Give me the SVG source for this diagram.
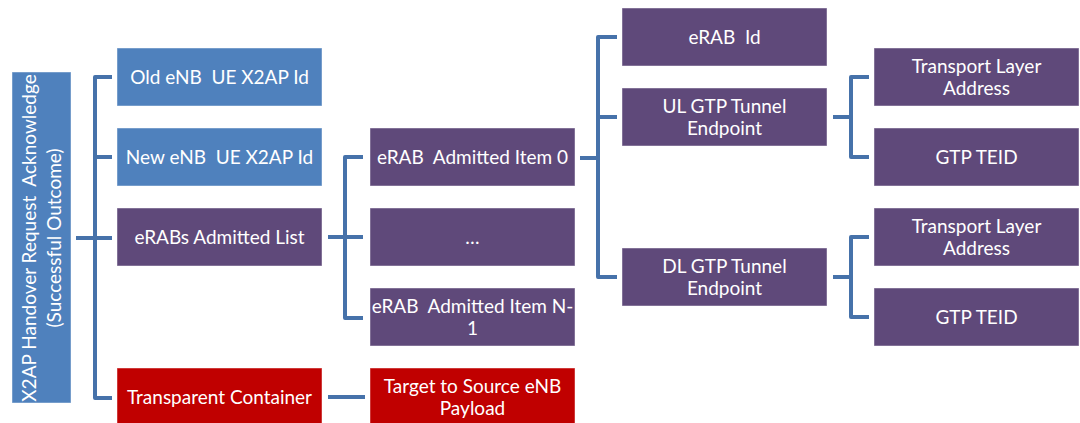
<svg xmlns="http://www.w3.org/2000/svg" width="1080" height="423" viewBox="0 0 1080 423">
  <style>
    .box { stroke: #ffffff; stroke-opacity: 0.45; stroke-width: 1; }
    .blue { fill: #4F81BD; }
    .purple { fill: #5F497A; }
    .red { fill: #C00000; }
    .lbl { font-family: Lato, "Open Sans", "Liberation Sans", sans-serif; font-size: 19px; fill: #ffffff; text-anchor: middle; white-space: pre; }
    .conn { fill: none; stroke: #4672AA; stroke-width: 4; stroke-linejoin: round; stroke-linecap: butt; }
  </style>

  <!-- connectors -->
  <g id="connectors">
    <!-- root to first-level fields -->
    <path class="conn" d="M76 238 H95"/>
    <path class="conn" d="M112 77 H95 V398 H112"/>
    <path class="conn" d="M95 157 H112"/>
    <path class="conn" d="M95 238 H112"/>
    <!-- eRABs Admitted List to items -->
    <path class="conn" d="M328 237 H363"/>
    <path class="conn" d="M363 157 H345 V318 H363"/>
    <!-- Transparent Container to payload -->
    <path class="conn" d="M328 397 H365"/>
    <!-- Admitted Item 0 to its fields -->
    <path class="conn" d="M580 158 H598"/>
    <path class="conn" d="M617 37 H598 V277 H617"/>
    <path class="conn" d="M598 117 H617"/>
    <!-- UL tunnel endpoint -->
    <path class="conn" d="M833 117 H851"/>
    <path class="conn" d="M869 77 H851 V157 H869"/>
    <!-- DL tunnel endpoint -->
    <path class="conn" d="M833 277 H851"/>
    <path class="conn" d="M869 237 H851 V317 H869"/>
  </g>

  <!-- root -->
  <g id="root">
    <rect class="box blue" x="12" y="72" width="59" height="331"/>
    <g transform="rotate(-90 41.5 238)">
      <text class="lbl" x="41.5" y="232">X2AP Handover Request  Acknowledge</text>
      <text class="lbl" x="41.5" y="257">(Successful Outcome)</text>
    </g>
  </g>

  <!-- first level -->
  <g id="old-enb-id">
    <rect class="box blue" x="117" y="48" width="205" height="58"/>
    <text class="lbl" x="219.5" y="83.5">Old eNB  UE X2AP Id</text>
  </g>
  <g id="new-enb-id">
    <rect class="box blue" x="117" y="128" width="205" height="58"/>
    <text class="lbl" x="219.5" y="163.5">New eNB  UE X2AP Id</text>
  </g>
  <g id="erabs-admitted-list">
    <rect class="box purple" x="117" y="208" width="205" height="58"/>
    <text class="lbl" x="219.5" y="243.5">eRABs Admitted List</text>
  </g>
  <g id="transparent-container">
    <rect class="box red" x="117" y="368" width="205" height="58"/>
    <text class="lbl" x="219.5" y="403.5">Transparent Container</text>
  </g>

  <!-- second level -->
  <g id="erab-item-0">
    <rect class="box purple" x="370" y="128" width="205" height="58"/>
    <text class="lbl" x="472.5" y="163.5">eRAB  Admitted Item 0</text>
  </g>
  <g id="erab-item-more">
    <rect class="box purple" x="370" y="208" width="205" height="58"/>
    <text class="lbl" x="472.5" y="243.5">…</text>
  </g>
  <g id="erab-item-n">
    <rect class="box purple" x="370" y="288" width="205" height="58"/>
    <text class="lbl" x="472.5" y="313">eRAB  Admitted Item N-</text>
    <text class="lbl" x="472.5" y="335">1</text>
  </g>
  <g id="target-to-source">
    <rect class="box red" x="370" y="368" width="205" height="58"/>
    <text class="lbl" x="472.5" y="393">Target to Source eNB</text>
    <text class="lbl" x="472.5" y="415">Payload</text>
  </g>

  <!-- third level -->
  <g id="erab-id">
    <rect class="box purple" x="622" y="8" width="205" height="58"/>
    <text class="lbl" x="724.5" y="43.5">eRAB  Id</text>
  </g>
  <g id="ul-gtp-endpoint">
    <rect class="box purple" x="622" y="88" width="205" height="58"/>
    <text class="lbl" x="724.5" y="113">UL GTP Tunnel</text>
    <text class="lbl" x="724.5" y="135">Endpoint</text>
  </g>
  <g id="dl-gtp-endpoint">
    <rect class="box purple" x="622" y="248" width="205" height="58"/>
    <text class="lbl" x="724.5" y="273">DL GTP Tunnel</text>
    <text class="lbl" x="724.5" y="295">Endpoint</text>
  </g>

  <!-- fourth level -->
  <g id="ul-transport-address">
    <rect class="box purple" x="874" y="48" width="205" height="58"/>
    <text class="lbl" x="976.5" y="73">Transport Layer</text>
    <text class="lbl" x="976.5" y="95">Address</text>
  </g>
  <g id="ul-gtp-teid">
    <rect class="box purple" x="874" y="128" width="205" height="58"/>
    <text class="lbl" x="976.5" y="163.5">GTP TEID</text>
  </g>
  <g id="dl-transport-address">
    <rect class="box purple" x="874" y="208" width="205" height="58"/>
    <text class="lbl" x="976.5" y="233">Transport Layer</text>
    <text class="lbl" x="976.5" y="255">Address</text>
  </g>
  <g id="dl-gtp-teid">
    <rect class="box purple" x="874" y="288" width="205" height="58"/>
    <text class="lbl" x="976.5" y="323.5">GTP TEID</text>
  </g>
</svg>
